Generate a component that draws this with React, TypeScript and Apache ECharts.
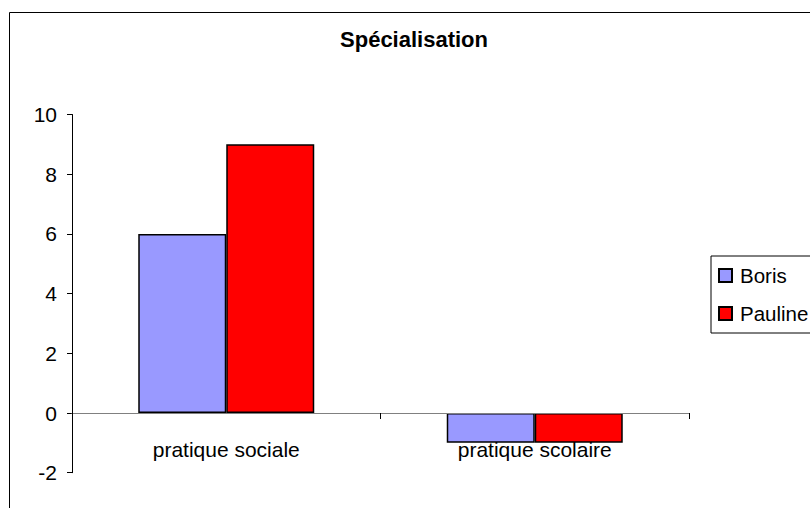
import React, { useEffect, useRef } from "react";
import * as echarts from "echarts";

const categories = ["pratique sociale", "pratique scolaire"];
const borisValues = [6, -1];
const paulineValues = [9, -1];
const seriesNames = ["Boris", "Pauline"];
const chartTitle = "Spécialisation";

const FONT = "'Liberation Sans', Arial, Helvetica, sans-serif";

export default function App() {
  const ref = useRef<HTMLDivElement>(null);
  useEffect(() => {
    if (!ref.current) return;
    const chart = echarts.init(ref.current, null, { renderer: "svg" });
    chart.setOption({
      animation: false,
      backgroundColor: "#ffffff",
      textStyle: { fontFamily: FONT },
      title: {
        text: chartTitle,
        left: 414,
        top: 28,
        padding: 0,
        textAlign: "center",
        textStyle: { fontFamily: FONT, fontSize: 22, fontWeight: "bold", color: "#000" },
      },
      graphic: [
        {
          type: "rect",
          shape: { x: 9.5, y: 12.5, width: 1000, height: 1000 },
          style: { fill: "none", stroke: "#000", lineWidth: 1 },
          silent: true,
          z: -1,
        },
      ],
      legend: {
        orient: "vertical",
        left: 711,
        top: 256,
        padding: [9, 14, 9, 7],
        itemGap: 17,
        itemWidth: 13,
        itemHeight: 13,
        icon: "rect",
        borderColor: "#000",
        borderWidth: 1,
        data: seriesNames,
        textStyle: { fontFamily: FONT, fontSize: 20.5, color: "#000", padding: [0, 0, 0, 3] },
      },
      grid: {
        left: 72,
        right: 121,
        top: 114.5,
        bottom: 35.3,
        containLabel: false,
        outerBoundsMode: "none",
      },
      xAxis: {
        type: "category",
        data: categories,
        z: 3,
        axisLine: { show: true, onZero: true, lineStyle: { color: "#808080", width: 1 } },
        axisTick: { show: true, length: 6, lineStyle: { color: "#000" } },
        axisLabel: { fontFamily: FONT, fontSize: 21, color: "#000", margin: -34 },
        splitLine: { show: false },
      },
      yAxis: {
        type: "value",
        min: -2,
        max: 10,
        interval: 2,
        axisLine: { show: true, lineStyle: { color: "#000", width: 1 } },
        axisTick: { show: true, length: 5, lineStyle: { color: "#000" } },
        axisLabel: { fontFamily: FONT, fontSize: 21, color: "#000", margin: 15 },
        splitLine: { show: false },
      },
      series: [
        {
          name: seriesNames[0],
          type: "bar",
          data: borisValues,
          barWidth: 88,
          barGap: "0%",
          itemStyle: { color: "#9999FF", borderColor: "#000", borderWidth: 1.5 },
        },
        {
          name: seriesNames[1],
          type: "bar",
          data: paulineValues,
          barWidth: 88,
          barGap: "0%",
          itemStyle: { color: "#FF0000", borderColor: "#000", borderWidth: 1.5 },
        },
      ],
    });
    return () => chart.dispose();
  }, []);
  return (
    <div
      ref={ref}
      style={{ position: "fixed", left: 0, top: 0, width: 810, height: 508 }}
    />
  );
}
